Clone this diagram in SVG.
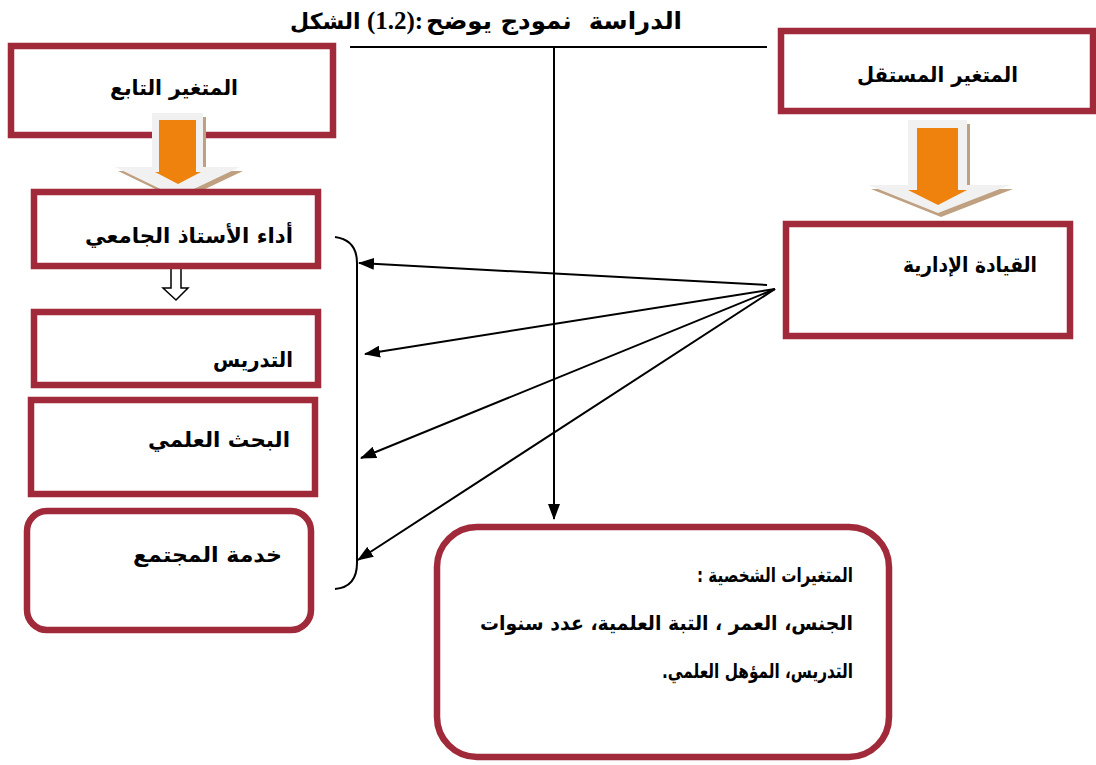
<svg xmlns="http://www.w3.org/2000/svg" width="1096" height="765" viewBox="0 0 1096 765">
<defs>
<style>
.box{fill:#fff;stroke:#A12A3A;stroke-width:6.5}
.ar{font-family:"DejaVu Sans",sans-serif;font-weight:bold;font-size:21px;fill:#000;direction:rtl;text-anchor:start}
.sm{font-size:20px}
.tt{font-family:"DejaVu Sans",sans-serif;font-weight:bold;font-size:24px;fill:#000;text-anchor:start}
.num{font-family:"Liberation Serif",serif;font-weight:bold;font-size:25px}
.ln{stroke:#000;stroke-width:2;fill:none}
.grey{fill:#F1F1F1}
.shadow{fill:#BFA080}
.orange{fill:#EF820D}
</style>
<marker id="ah" viewBox="0 0 16 12" refX="15" refY="6" markerWidth="16" markerHeight="12" markerUnits="userSpaceOnUse" orient="auto">
<path d="M0,0 L16,6 L0,12 Z" fill="#000"/>
</marker>
</defs>
<rect width="1096" height="765" fill="#fff"/>

<g id="title">
<text class="tt" x="290" y="29" style="direction:ltr" xml:space="preserve"><tspan style="font-size:22px">الشكل</tspan><tspan class="num">&#x200E; (1.2):</tspan></text>
<text class="tt" x="682" y="29" style="direction:rtl" xml:space="preserve" textLength="256" lengthAdjust="spacingAndGlyphs">الدراسة  نمودج يوضح</text>
</g>

<g id="connectors">
<line class="ln" x1="350" y1="47" x2="767" y2="47"/>
<line class="ln" x1="554" y1="47" x2="554" y2="519" marker-end="url(#ah)"/>
<path class="ln" d="M335,237 Q357,240 357,263 L357,563 Q357,587 335,589"/>
<line class="ln" x1="767" y1="285" x2="359" y2="263" marker-end="url(#ah)"/>
<line class="ln" x1="775" y1="289" x2="365" y2="354" marker-end="url(#ah)"/>
<line class="ln" x1="775" y1="289" x2="361" y2="458" marker-end="url(#ah)"/>
<line class="ln" x1="775" y1="289" x2="358" y2="560" marker-end="url(#ah)"/>
<path d="M171,265 H181 V288 H188 L176,300 L163,288 H171 Z" fill="#fff" stroke="#000" stroke-width="1.5"/>
</g>

<g id="dependent">
<rect class="box" x="11" y="46" width="322" height="89"/>
<text class="ar" x="238" y="95" textLength="128" lengthAdjust="spacingAndGlyphs">المتغير التابع</text>
</g>

<g id="independent">
<rect class="box" x="781" y="31" width="312" height="80"/>
<text class="ar" x="1018" y="82" textLength="161" lengthAdjust="spacingAndGlyphs">المتغير المستقل</text>
</g>

<g id="arrow-left">
<path class="shadow" d="M155,117 H206 V171 H243 L180,201 L118,171 H155 Z"/>
<path class="grey" d="M152,113 H203 V167 H240 L177,197 L115,167 H152 Z"/>
<path class="orange" d="M159,120 H196 V172 H201 L178,184 L155,172 H159 Z"/>
</g>

<g id="arrow-right">
<path class="shadow" d="M911,124 H970 V189 H1013 L941,217 L871,189 H911 Z"/>
<path class="grey" d="M908,120 H967 V185 H1010 L938,213 L868,185 H908 Z"/>
<path class="orange" d="M917,128 H958 V190 H967 L938,205 L908,190 H917 Z"/>
</g>

<g id="performance">
<rect class="box" x="34" y="192" width="284" height="74"/>
<text class="ar" x="293" y="243" textLength="208" lengthAdjust="spacingAndGlyphs">أداء الأستاذ الجامعي</text>
</g>

<g id="teaching">
<rect class="box" x="34" y="312" width="284" height="73"/>
<text class="ar" x="293" y="367" textLength="80" lengthAdjust="spacingAndGlyphs">التدريس</text>
</g>

<g id="research">
<rect class="box" x="31" y="400" width="284" height="94"/>
<text class="ar" x="290" y="447" textLength="142" lengthAdjust="spacingAndGlyphs">البحث العلمي</text>
</g>

<g id="community">
<rect class="box" x="27" y="511" width="284" height="119" rx="20"/>
<text class="ar" x="282" y="562" textLength="149" lengthAdjust="spacingAndGlyphs">خدمة المجتمع</text>
</g>

<g id="leadership">
<rect class="box" x="786" y="224" width="284" height="112"/>
<text class="ar" x="1037" y="272" textLength="134" lengthAdjust="spacingAndGlyphs">القيادة الإدارية</text>
</g>

<g id="personal">
<rect class="box" x="437" y="527" width="452" height="230" rx="40"/>
<text class="ar sm" x="853" y="582" textLength="156" lengthAdjust="spacingAndGlyphs">المتغيرات الشخصية :</text>
<text class="ar sm" x="853" y="630" textLength="373" lengthAdjust="spacingAndGlyphs">الجنس، العمر ، التبة العلمية، عدد سنوات</text>
<text class="ar sm" x="853" y="678" textLength="191" lengthAdjust="spacingAndGlyphs">التدريس، المؤهل العلمي.</text>
</g>
</svg>
